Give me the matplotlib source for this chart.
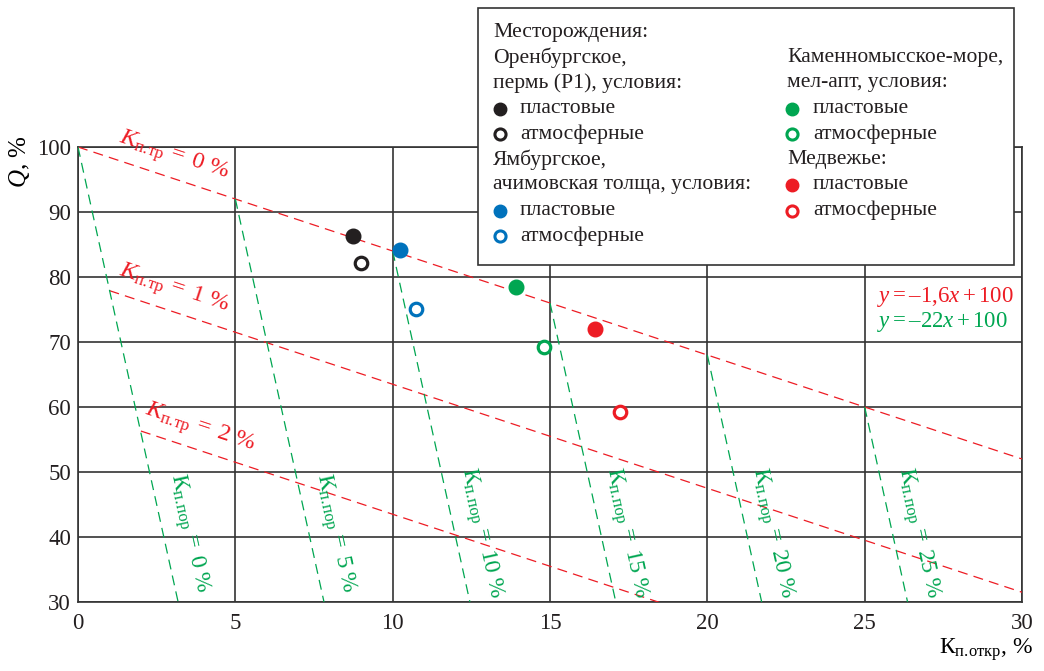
import matplotlib
matplotlib.use("Agg")
import matplotlib.pyplot as plt
from matplotlib.patches import Rectangle
import numpy as np

plt.rcParams['font.family'] = ['Liberation Serif', 'DejaVu Serif']
plt.rcParams['mathtext.fontset'] = 'custom'
plt.rcParams['mathtext.rm'] = 'Liberation Serif'
plt.rcParams['mathtext.it'] = 'Liberation Serif:italic'
plt.rcParams['mathtext.bf'] = 'Liberation Serif:bold'

RED = '#ed1c24'
GREEN = '#00a651'
BLUE = '#0072bc'
BLACK = '#231f20'
GRID = '#333333'

# месторождения: точки при пластовых и атмосферных условиях
field_colors = [BLACK, BLUE, GREEN, RED]
plast_k = [8.73, 10.22, 13.93, 16.44]
plast_q = [86.3, 84.2, 78.4, 72.0]
atm_k = [9.0, 10.75, 14.8, 17.23]
atm_q = [82.15, 75.1, 69.3, 59.2]

# линии K_п.тр: y = -1,6x + b
tr_labels = ['0', '1', '2']
tr_intercepts = [100, 79.5, 59.5]
tr_x_start = [0, 1.0, 2.0]
tr_slope = -1.6

# линии K_п.пор: наклон -22, начинаются на линии K_п.тр = 0 %
por_levels = [0, 5, 10, 15, 20, 25]
por_slope = -22

xticks = [0, 5, 10, 15, 20, 25, 30]
yticks = [30, 40, 50, 60, 70, 80, 90, 100]

W, H = 1044, 671
fig = plt.figure(figsize=(W / 100, H / 100), dpi=100)
ax = fig.add_axes([78 / W, 1 - 602 / H, 944 / W, 455 / H])
ax.set_xlim(0, 30)
ax.set_ylim(30, 100)
ax.set_xticks(xticks)
ax.set_yticks(yticks)
ax.tick_params(length=0, labelsize=16.5, colors='#231f20')
ax.tick_params(axis='x', pad=8)
ax.tick_params(axis='y', pad=5)
ax.grid(True, color=GRID, lw=1.2)
ax.set_axisbelow(True)
for s in ax.spines.values():
    s.set_color(GRID)
    s.set_linewidth(1.2)


def screen_angle(slope):
    p0 = ax.transData.transform((10, 60))
    p1 = ax.transData.transform((11, 60 + slope))
    return np.degrees(np.arctan2(p1[1] - p0[1], p1[0] - p0[0]))


tr_angle = screen_angle(tr_slope)
por_angle = screen_angle(por_slope)

# красные линии
for lab, b, xs in zip(tr_labels, tr_intercepts, tr_x_start):
    xx = np.array([xs, 30])
    ax.plot(xx, tr_slope * xx + b, color=RED, lw=0.9, dashes=(8, 5), zorder=3)
    lx = 3.85 if lab == '2' else 3.05
    ly = tr_slope * lx + b + 3.45
    ax.text(lx, ly, r'$K_{\mathrm{п.\!тр}}\,\mathit{=}\;\mathit{%s\ \%%}$' % lab,
            color=RED, fontsize=17.5, rotation=tr_angle,
            rotation_mode='anchor', ha='center', va='center', zorder=4)

# зелёные линии
for x0 in por_levels:
    y0 = 100 + tr_slope * x0
    x_end = x0 + (y0 - 30) / -por_slope
    ax.plot([x0, x_end], [y0, 30], color=GREEN, lw=0.9, dashes=(8, 5), zorder=3)
    ly = 40.6
    lx = x0 + (y0 - ly) / -por_slope + 0.8
    ax.text(lx, ly, r'$\mathrm{К}_{\mathrm{п.\!пор}}\,=\;%d\ \%%$' % x0,
            color=GREEN, fontsize=17, rotation=por_angle,
            rotation_mode='anchor', ha='center', va='center', zorder=4)

# точки месторождений
for c, xp, yp, xa, ya in zip(field_colors, plast_k, plast_q, atm_k, atm_q):
    ax.plot(xp, yp, 'o', color=c, ms=10.5, zorder=5)
    ax.plot(xa, ya, 'o', mfc='white', mec=c, mew=2.3, ms=9, zorder=5)

ax.text(25.4, 76.9, r'$y = \mathrm{–}1{,}6x + 100$', color=RED, fontsize=16.5,
        ha='left', va='center', zorder=4)
ax.text(25.4, 73.0, r'$y = \mathrm{–}22x + 100$', color=GREEN, fontsize=16.5,
        ha='left', va='center', zorder=4)

# подписи осей
fig.text(20 / W, 1 - 162 / H, r'$\mathit{Q}$, %', rotation=90, fontsize=18,
         ha='center', va='center')
fig.text(1033 / W, 1 - 650 / H, r'$\mathrm{К}_{\mathrm{п.\!откр}}$, %', fontsize=17,
         ha='right', va='center')


# легенда в пикселях рисунка
def fp(x, y):
    return x / W, 1 - y / H


box = Rectangle(fp(478, 265), (1014 - 478) / W, (265 - 8) / H,
                transform=fig.transFigure, facecolor='white',
                edgecolor=GRID, lw=1.2, zorder=6)
fig.add_artist(box)

row_y = [32, 57.5, 83, 108.5, 134, 159.5, 185, 210.5, 236]
left_rows = [
    ('Месторождения:', None, None),
    ('Оренбургское,', None, None),
    ('пермь (Р1), условия:', None, None),
    ('пластовые', BLACK, True),
    ('атмосферные', BLACK, False),
    ('Ямбургское,', None, None),
    ('ачимовская толща, условия:', None, None),
    ('пластовые', BLUE, True),
    ('атмосферные', BLUE, False),
]
right_rows = [
    None,
    ('Каменномысское-море,', None, None),
    ('мел-апт, условия:', None, None),
    ('пластовые', GREEN, True),
    ('атмосферные', GREEN, False),
    ('Медвежье:', None, None),
    ('пластовые', RED, True),
    ('атмосферные', RED, False),
    None,
]


def legend_column(rows, x_text, x_mark, x_after):
    for row, y in zip(rows, row_y):
        if row is None:
            continue
        txt, col, filled = row
        if col is None:
            fig.text(*fp(x_text, y), txt, fontsize=15.6, ha='left',
                     va='center', color='#231f20', zorder=7)
            continue
        if filled:
            fig.add_artist(plt.Line2D([x_mark / W], [1 - y / H], marker='o',
                                      color=col, ms=9, transform=fig.transFigure,
                                      zorder=7))
        else:
            fig.add_artist(plt.Line2D([x_mark / W], [1 - y / H], marker='o',
                                      mfc='white', mec=col, mew=2.2, ms=8,
                                      transform=fig.transFigure, zorder=7))
        fig.text(*fp(x_after, y), txt, fontsize=15.6, ha='left', va='center',
                 color='#231f20', zorder=7)


legend_column(left_rows, 493, 500, 520)
legend_column(right_rows, 787, 792, 813)

fig.savefig('out.png', dpi=100)
